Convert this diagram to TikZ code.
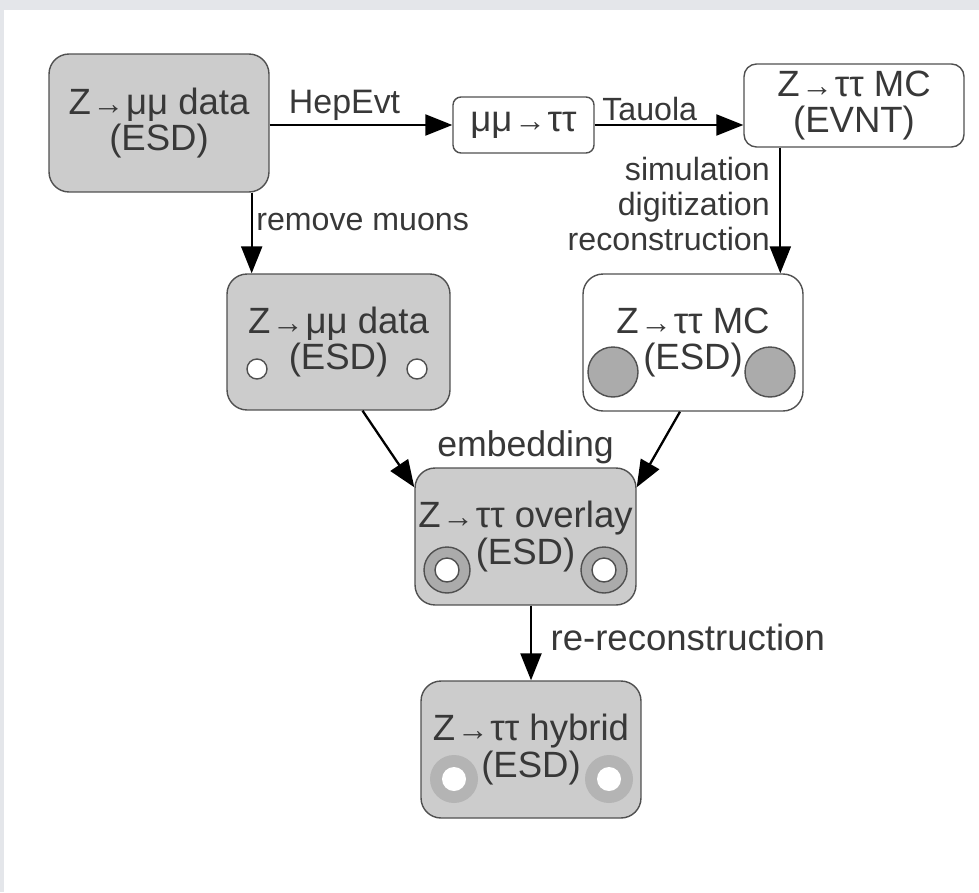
\documentclass[tikz,border=0pt]{standalone}
\usepackage{fontspec}
\setmainfont{Liberation Sans}
\usetikzlibrary{arrows.meta,calc}

\definecolor{boxgrey}{HTML}{CCCCCC}
\definecolor{boxline}{HTML}{505050}
\definecolor{textgrey}{HTML}{383838}
\definecolor{holegrey}{HTML}{ABABAB}
\definecolor{ringgrey}{HTML}{B4B4B4}
\definecolor{bandgrey}{HTML}{E4E6EA}

\newcommand{\boxfont}{\fontsize{20.8}{21}\selectfont}
\newcommand{\lblfont}{\fontsize{18.3}{19.9}\selectfont}
\newcommand{\ra}{\hspace{1pt}{\fontsize{18}{18}\selectfont →}\hspace{1pt}}

\begin{document}
\begin{tikzpicture}[
    x=0.02cm, y=-0.02cm,
    data node/.style={rectangle, rounded corners=0.4cm, draw=boxline, line width=0.8pt, fill=boxgrey,
        text=textgrey, font=\boxfont, align=center, inner sep=0pt, minimum width=4.4cm, minimum height=2.74cm},
    mc node/.style={data node, fill=white},
    lbl/.style={font=\lblfont, text=textgrey, inner sep=2pt},
    every edge/.style={draw, line width=1.3pt, -{Triangle[length=0.54cm,width=0.42cm]}},
    hole/.style={draw=boxline, line width=0.8pt, fill=white},
]
    \useasboundingbox (0,0) rectangle (979,892);
    \fill[bandgrey] (0,0) rectangle (979,10);
    \fill[bandgrey] (0,0) rectangle (4,892);

    \node[data node, minimum height=2.76cm] (esd1) at (159,123) {Z\ra μμ data\\(ESD)};
    \node[mc node, rounded corners=0.16cm, minimum width=2.82cm, minimum height=1.12cm] (tautau) at (523.5,125) {μμ\ra ττ};
    \node[mc node, rounded corners=0.25cm, minimum height=1.66cm] (evnt) at (854,105.5) {Z\ra ττ MC\\(EVNT)};
    \node[data node, minimum width=4.46cm, minimum height=2.72cm] (esd2) at (338.5,342) {Z\ra μμ data\\(ESD)};
    \node[mc node] (mcesd) at (693,342.5) {Z\ra ττ MC\\(ESD)};
    \node[data node, minimum width=4.42cm] (overlay) at (525.5,536.5) {Z\ra ττ overlay\\(ESD)};
    \node[data node] (hybrid) at (531,749.5) {Z\ra ττ hybrid\\(ESD)};

    % muon holes and tau deposits
    \foreach \x in {257,417}
        \draw[hole] (\x,369) circle[radius=0.2cm];
    \foreach \x in {613,770}
        \draw[hole, fill=holegrey] (\x,372) circle[radius=0.5cm];
    \foreach \x in {447,604} {
        \draw[hole, fill=holegrey] (\x,570) circle[radius=0.46cm];
        \draw[hole] (\x,570) circle[radius=0.24cm];
    }
    \foreach \x in {454,609} {
        \fill[ringgrey] (\x,779) circle[radius=0.48cm];
        \fill[white] (\x,779) circle[radius=0.24cm];
    }

    \path (esd1.east |- tautau.west) edge node[lbl, font=\fontsize{19.3}{20}\selectfont, pos=0.08, anchor=south west] (hepevt) {HepEvt} (tautau.west);
    \path (tautau.east) edge node[lbl, pos=0.02, anchor=south west] (tauola) {Tauola} (tautau.east -| evnt.west);
    \path ($(esd1.south east)+(-18,0)$) edge node[lbl, right, pos=0.36] (remove) {remove muons} ($(esd1.south east |- esd2.north)+(-18,0)$);
    \path ($(evnt.south west)+(37,0)$) edge node[lbl, left, align=right, pos=0.45, xshift=-0.12cm] (simu) {simulation\\digitization\\reconstruction} ($(evnt.south west |- mcesd.north)+(37,0)$);
    \path ($(esd2.south)+(24,0)$) edge ($(overlay.north west)+(0,20)$);
    \path ($(mcesd.south)+(-13,0)$) edge ($(overlay.north east)+(0,20)$);
    \node[lbl, font=\fontsize{20.3}{21}\selectfont, anchor=base] (embed) at ($(overlay.north)+(0,-11)$) {embedding};
    \path (overlay.south -| hybrid.north) edge node[lbl, font=\fontsize{20.8}{21}\selectfont, right, pos=0.42, xshift=0.3cm] (rereco) {re-reconstruction} (hybrid.north);
\end{tikzpicture}
\end{document}
